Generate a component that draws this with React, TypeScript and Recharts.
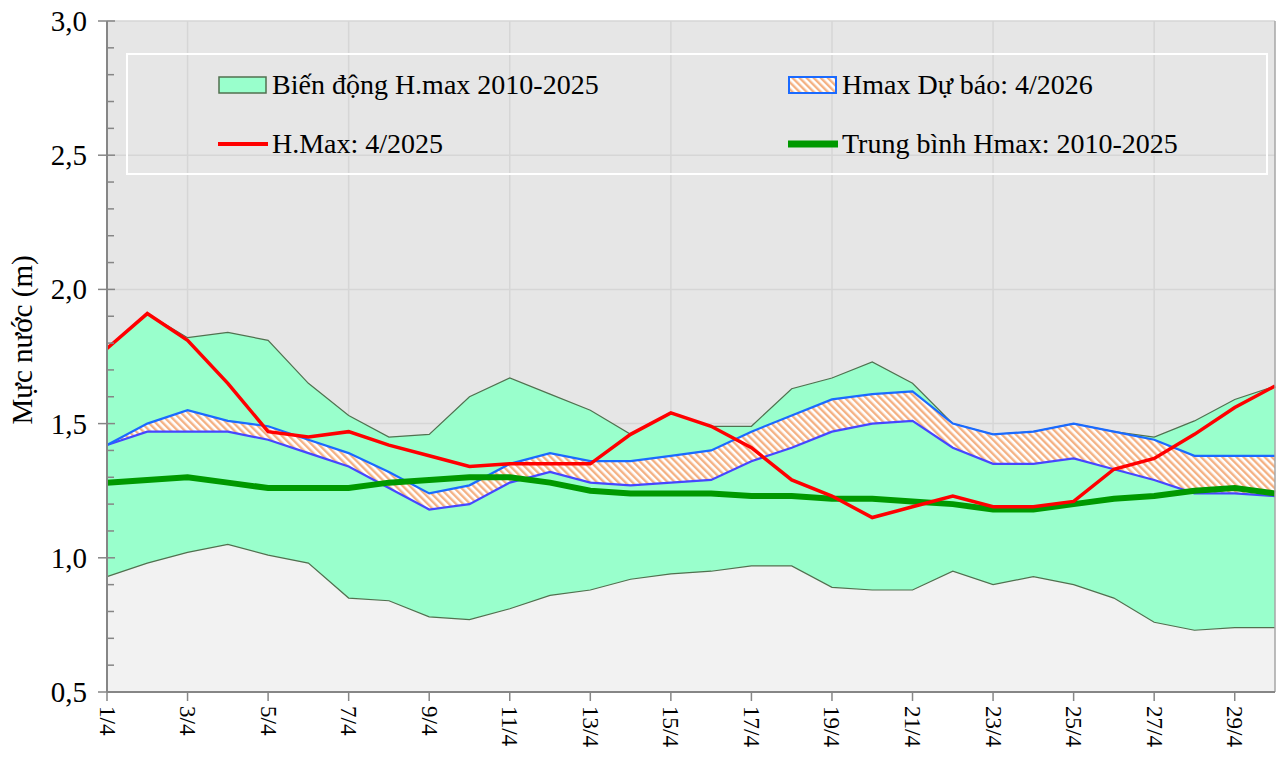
import { ComposedChart, Area, Line, XAxis, YAxis, CartesianGrid, ReferenceLine } from 'recharts'

const DAYS = ['1/4', '2/4', '3/4', '4/4', '5/4', '6/4', '7/4', '8/4', '9/4', '10/4',
    '11/4', '12/4', '13/4', '14/4', '15/4', '16/4', '17/4', '18/4', '19/4', '20/4',
    '21/4', '22/4', '23/4', '24/4', '25/4', '26/4', '27/4', '28/4', '29/4', '30/4']

// Biến động H.max 2010-2025 (min / max)
const HMAX_MIN = [0.93, 0.98, 1.02, 1.05, 1.01, 0.98, 0.85, 0.84, 0.78, 0.77,
    0.81, 0.86, 0.88, 0.92, 0.94, 0.95, 0.97, 0.97, 0.89, 0.88,
    0.88, 0.95, 0.90, 0.93, 0.90, 0.85, 0.76, 0.73, 0.74, 0.74]
const HMAX_MAX = [1.78, 1.91, 1.82, 1.84, 1.81, 1.65, 1.53, 1.45, 1.46, 1.60,
    1.67, 1.61, 1.55, 1.46, 1.54, 1.49, 1.49, 1.63, 1.67, 1.73,
    1.65, 1.50, 1.46, 1.47, 1.50, 1.47, 1.45, 1.51, 1.59, 1.64]

// Hmax Dự báo 4/2026 (cận trên / cận dưới)
const FC_UP = [1.42, 1.50, 1.55, 1.51, 1.49, 1.44, 1.39, 1.32, 1.24, 1.27,
    1.35, 1.39, 1.36, 1.36, 1.38, 1.40, 1.47, 1.53, 1.59, 1.61,
    1.62, 1.50, 1.46, 1.47, 1.50, 1.47, 1.44, 1.38, 1.38, 1.38]
const FC_LOW = [1.42, 1.47, 1.47, 1.47, 1.44, 1.39, 1.34, 1.26, 1.18, 1.20,
    1.28, 1.32, 1.28, 1.27, 1.28, 1.29, 1.36, 1.41, 1.47, 1.50,
    1.51, 1.41, 1.35, 1.35, 1.37, 1.33, 1.29, 1.24, 1.24, 1.23]

// H.Max 4/2025
const HMAX_2025 = [1.78, 1.91, 1.81, 1.65, 1.47, 1.45, 1.47, 1.42, 1.38, 1.34,
    1.35, 1.35, 1.35, 1.46, 1.54, 1.49, 1.41, 1.29, 1.23, 1.15,
    1.19, 1.23, 1.19, 1.19, 1.21, 1.33, 1.37, 1.46, 1.56, 1.64]

// Trung bình Hmax 2010-2025
const HMAX_AVG = [1.28, 1.29, 1.30, 1.28, 1.26, 1.26, 1.26, 1.28, 1.29, 1.30,
    1.30, 1.28, 1.25, 1.24, 1.24, 1.24, 1.23, 1.23, 1.22, 1.22,
    1.21, 1.20, 1.18, 1.18, 1.20, 1.22, 1.23, 1.25, 1.26, 1.24]

const Y_MAJOR = [0.5, 1.0, 1.5, 2.0, 2.5, 3.0]
const Y_ALL = [0.5, 0.6, 0.7, 0.8, 0.9, 1.0, 1.1, 1.2, 1.3, 1.4, 1.5, 1.6, 1.7, 1.8, 1.9,
    2.0, 2.1, 2.2, 2.3, 2.4, 2.5, 2.6, 2.7, 2.8, 2.9, 3.0]
const GRID_X = ['3/4', '5/4', '7/4', '9/4', '11/4', '13/4', '15/4', '17/4', '19/4',
    '21/4', '23/4', '25/4', '27/4', '29/4']

const FONT = '"Liberation Serif", "Times New Roman", serif'
const AXIS_GRAY = '#868686'

const data = DAYS.map((day, i) => ({
    day,
    low: HMAX_MIN[i],
    range: [HMAX_MIN[i], HMAX_MAX[i]],
    band: [FC_LOW[i], FC_UP[i]],
    up: FC_UP[i],
    down: FC_LOW[i],
    h2025: HMAX_2025[i],
    avg: HMAX_AVG[i],
}))

const isMajor = (v: number) => Math.abs(v * 2 - Math.round(v * 2)) < 1e-6

const YTick = (props: any) => {
    const { x, y, payload } = props
    const v = payload.value as number
    if (isMajor(v)) {
        return (
            <g>
                <line x1={x - 9} x2={x + 8} y1={y} y2={y} stroke={AXIS_GRAY} strokeWidth={1.5} />
                <text x={x - 20} y={y} textAnchor="end" dominantBaseline="central"
                    fontSize={29} fontFamily={FONT} fill="#000">
                    {v.toFixed(1).replace('.', ',')}
                </text>
            </g>
        )
    }
    return <line x1={x} x2={x + 7} y1={y} y2={y} stroke={AXIS_GRAY} strokeWidth={1.5} />
}

const XTick = (props: any) => {
    const { x, y, payload } = props
    return (
        <text x={x} y={y} transform={`rotate(90, ${x}, ${y})`} textAnchor="start"
            dominantBaseline="central" fontSize={23} fontFamily={FONT} fill="#000">
            {payload.value}
        </text>
    )
}

const YLabel = () => (
    <text x={22} y={340} transform="rotate(-90, 22, 340)" textAnchor="middle"
        dominantBaseline="central" fontSize={29} fontFamily={FONT} fill="#000">
        Mực nước (m)
    </text>
)

function LegendBox() {
    const item = (left: number, top: number, icon: React.ReactNode, text: string) => (
        <div style={{ position: 'absolute', left, top, display: 'flex', alignItems: 'center', height: 30 }}>
            <svg width={50} height={20} style={{ marginRight: 4 }}>
                {icon}
            </svg>
            <span style={{ fontFamily: FONT, fontSize: 28, whiteSpace: 'nowrap', color: '#000' }}>{text}</span>
        </div>
    )
    return (
        <div style={{
            position: 'absolute', left: 126, top: 53, width: 1142, height: 122,
            border: '2px solid #fff', boxSizing: 'border-box',
        }}>
            {item(90, 15,
                <rect x={1} y={2} width={47} height={16} fill="#99ffcc" stroke="#51704f" strokeWidth={1.5} />,
                'Biến động H.max 2010-2025')}
            {item(660, 15,
                <rect x={1} y={2} width={47} height={16} fill="url(#hatchLegend)" stroke="#1a6aff" strokeWidth={2} />,
                'Hmax Dự báo: 4/2026')}
            {item(90, 74,
                <line x1={0} x2={50} y1={10} y2={10} stroke="#ff0000" strokeWidth={4} />,
                'H.Max: 4/2025')}
            {item(660, 74,
                <line x1={0} x2={50} y1={10} y2={10} stroke="#009900" strokeWidth={7} />,
                'Trung bình Hmax: 2010-2025')}
        </div>
    )
}

export default function App() {
    return (
        <div style={{ position: 'relative', width: 1284, height: 767, margin: -8 }}>
            <svg width={0} height={0} style={{ position: 'absolute' }}>
                <defs>
                    <pattern id="hatchLegend" width={5} height={5} patternUnits="userSpaceOnUse" patternTransform="rotate(-45)">
                        <rect width={5} height={5} fill="#ffffff" />
                        <rect width={2.4} height={5} fill="#f4b183" />
                    </pattern>
                </defs>
            </svg>
            <ComposedChart width={1284} height={767} data={data}
                margin={{ top: 21, right: 9, bottom: 0, left: 0 }}>
                <defs>
                    <pattern id="hatch" width={5} height={5} patternUnits="userSpaceOnUse" patternTransform="rotate(-45)">
                        <rect width={5} height={5} fill="#ffffff" />
                        <rect width={2.4} height={5} fill="#f4b183" />
                    </pattern>
                </defs>
                <CartesianGrid fill="#e6e6e6" stroke="#d6d6d6" strokeWidth={1.5}
                    horizontalValues={Y_MAJOR.slice(1)} verticalValues={GRID_X} />
                <Area dataKey="low" baseValue={0.5} fill="#f2f2f2" fillOpacity={1} stroke="none"
                    isAnimationActive={false} />
                <Area dataKey="range" fill="#99ffcc" fillOpacity={1} stroke="#51704f" strokeWidth={1.2}
                    isAnimationActive={false} />
                <Area dataKey="band" fill="url(#hatch)" fillOpacity={1} stroke="none"
                    isAnimationActive={false} />
                <Line dataKey="down" stroke="#4646ff" strokeWidth={2.2} dot={false} isAnimationActive={false} />
                <Line dataKey="up" stroke="#1a6aff" strokeWidth={2.2} dot={false} isAnimationActive={false} />
                <Line dataKey="avg" stroke="#009900" strokeWidth={6} dot={false} isAnimationActive={false} />
                <Line dataKey="h2025" stroke="#ff0000" strokeWidth={3.5} dot={false} isAnimationActive={false} />
                <ReferenceLine x="30/4" stroke="#a6a6a6" strokeWidth={1.5} />
                <XAxis dataKey="day" scale="point" interval={1} height={75}
                    tickSize={9} tickMargin={5} tick={<XTick />}
                    axisLine={{ stroke: AXIS_GRAY, strokeWidth: 2 }}
                    tickLine={{ stroke: AXIS_GRAY, strokeWidth: 1.5 }} />
                <YAxis type="number" domain={[0.5, 3]} ticks={Y_ALL} interval={0} width={107}
                    allowDataOverflow tickSize={0} tickMargin={0} tickLine={false} tick={<YTick />}
                    axisLine={{ stroke: AXIS_GRAY, strokeWidth: 2 }} label={<YLabel />} />
            </ComposedChart>
            <LegendBox />
        </div>
    )
}
